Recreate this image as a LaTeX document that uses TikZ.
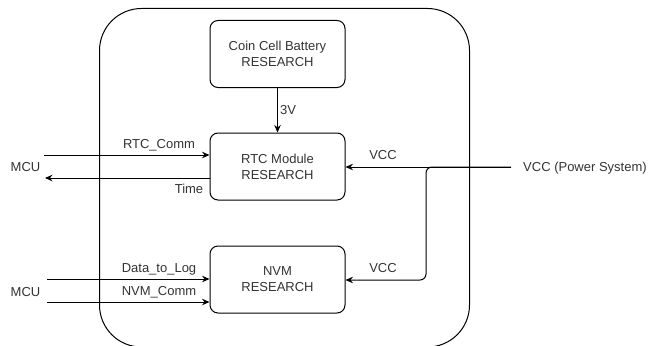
\documentclass[tikz,border=0pt]{standalone}
\usepackage{fontspec}
\setmainfont{Liberation Sans}
\usetikzlibrary{arrows.meta}
\begin{document}
\begin{tikzpicture}[x=1pt,y=-1pt,
  font=\fontsize{13}{16}\selectfont,
  txt/.style={text=black!80, inner sep=0pt},
  blk/.style={draw, line width=1pt, rounded corners=8pt, minimum width=135pt,
    minimum height=67pt, align=center, text=black!80},
  wire/.style={line width=1pt},
  arr/.style={wire, -{Stealth[length=7.5pt,width=6.5pt,inset=2.5pt]}}]
\useasboundingbox (0,0) rectangle (652,345);
\clip (0,0) rectangle (652,345);

% enclosing module outline
\draw[line width=1pt, rounded corners=42pt] (99.5,8.5) rectangle (469.5,347);

% blocks
\node[blk] (bat) at (277.5,54) {Coin Cell Battery\\RESEARCH};
\node[blk] (rtc) at (277.5,166.5) {RTC Module\\RESEARCH};
\node[blk] (nvm) at (277.5,279.5) {NVM\\RESEARCH};

% external labels
\node[txt, anchor=base] (mcua) at (25.5,171.7) {MCU};
\node[txt, anchor=base] (mcub) at (25.5,296.2) {MCU};
\node[txt, anchor=base west] (pwr) at (523,171.7) {VCC (Power System)};

% free ends of the MCU links
\coordinate (rc) at (44,155);
\coordinate (tm) at (45,178);
\coordinate (dl) at (47,279);
\coordinate (nc) at (47,302);
\coordinate (pw) at (511,167);

% battery to RTC
\draw[arr] (bat) -- (rtc);
\node[txt, anchor=base west] (l3v) at (280,114.7) {3V};

% RTC links
\draw[arr] (rc) -- (rc -| rtc.west);
\node[txt, anchor=base] (lrc) at (159,148.7) {RTC\_Comm};
\draw[arr] (tm -| rtc.west) -- (tm);
\node[txt, anchor=base] (ltm) at (189,193.7) {Time};

% NVM links
\draw[arr] (dl) -- (dl -| nvm.west);
\node[txt, anchor=base] (ldl) at (159,272.7) {Data\_to\_Log};
\draw[arr] (nc) -- (nc -| nvm.west);
\node[txt, anchor=base] (lnc) at (159,295.7) {NVM\_Comm};

% supply rail
\draw[arr] (pw) -- (rtc.east |- pw);
\node[txt, anchor=base] (lv1) at (383,159.7) {VCC};
\draw[arr, rounded corners=6pt] (pw) -- (426,167) -- (426,280) -- (nvm.east |- 0,280);
\node[txt, anchor=base] (lv2) at (383,272.7) {VCC};
\end{tikzpicture}
\end{document}
